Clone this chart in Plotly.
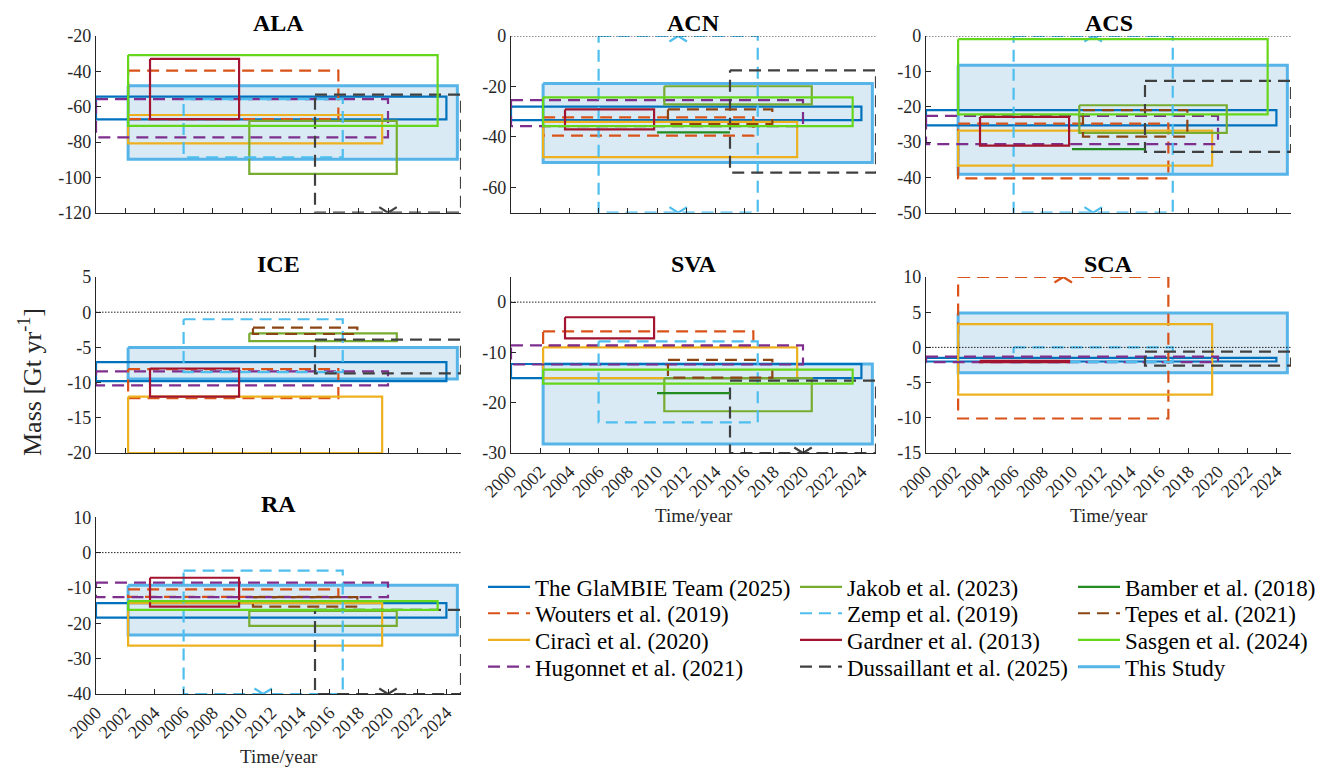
import plotly.graph_objects as go

# ---------------- data ----------------
regions = ["ALA", "ACN", "ACS", "ICE", "SVA", "SCA", "RA"]
y_lo = [-120, -70, -50, -20, -30, -15, -40]
y_hi = [-20, 0, 0, 5, 5, 10, 10]
y_dtick = [20, 20, 10, 5, 10, 5, 10]
x_ticks = list(range(2000, 2025, 2))
x_range = [2000, 2025]

studies = ["The GlaMBIE Team (2025)", "Wouters et al. (2019)", "Ciracì et al. (2020)",
           "Hugonnet et al. (2021)", "Jakob et al. (2023)", "Zemp et al. (2019)",
           "Gardner et al. (2013)", "Dussaillant et al. (2025)", "Bamber et al. (2018)",
           "Tepes et al. (2021)", "Sasgen et al. (2024)", "This Study"]
colors = ["#0072BD", "#D95319", "#EDB120", "#7E2F8E", "#77AC30", "#4DBEEE",
          "#A2142F", "#404040", "#228B22", "#8B4513", "#66D61A", "#56B4E9"]
dashed = [False, True, False, True, False, True, False, True, False, True, False, False]
t_start = [2000.0, 2002.2, 2002.2, 2000.0, 2010.5, 2006.0, 2003.7, 2015.0, 2010.0, 2010.75, 2002.2, 2002.2]
t_end = [2024.0, 2016.6, 2019.6, 2020.0, 2020.6, 2016.9, 2009.8, 2025.0, 2015.0, 2017.9, 2023.4, 2024.75]

# upper / lower mass-balance bounds per region (order of `regions`), None = not available
glambie_up = [-54.3, -28.0, -21.0, -7.1, -12.3, -1.5, -14.3]
glambie_lo = [-67.2, -33.3, -25.3, -9.8, -15.1, -2.0, -18.4]
wouters_up = [-39.6, -32.2, -24.8, -8.1, -5.8, 11.0, -10.4]
wouters_lo = [-67.0, -39.5, -40.3, -12.2, -8.7, -10.1, -12.5]
ciraci_up = [-64.7, -34.0, -26.8, -12.0, -9.0, 3.3, -14.3]
ciraci_lo = [-80.8, -48.0, -36.7, -20.0, -15.1, -6.7, -26.3]
hugonnet_up = [-55.7, -25.4, -22.6, -8.4, -8.6, -1.3, -8.5]
hugonnet_lo = [-77.4, -35.7, -30.6, -10.4, -12.4, -2.1, -12.6]
jakob_up = [-68.0, -19.9, -19.6, -3.0, -15.1, None, -16.5]
jakob_lo = [-98.0, -27.1, -27.4, -4.1, -21.7, None, -20.7]
zemp_up = [-55.7, 3.0, 3.0, -1.0, -7.8, 0.0, -5.1]
zemp_lo = [-88.7, -75.0, -53.0, -8.5, -23.9, -2.1, -42.0]
gardner_up = [-33.0, -29.1, -22.9, -8.0, -3.0, -1.9, -7.1]
gardner_lo = [-67.0, -37.0, -31.0, -12.0, -7.2, -2.1, -15.3]
dussaillant_up = [-53.2, -13.6, -12.7, -3.9, -15.6, -0.6, -16.2]
dussaillant_lo = [-125.0, -54.1, -32.8, -8.7, -32.0, -2.6, -44.0]
bamber_up = [None, -38.2, -32.0, None, -18.1, None, None]
bamber_lo = [None, -38.2, -32.0, None, -18.1, None, None]
tepes_up = [None, -29.1, -21.0, -2.2, -11.5, None, -12.6]
tepes_lo = [None, -34.9, -28.5, -3.1, -15.0, None, -15.3]
sasgen_up = [-30.8, -24.3, -0.9, None, -13.4, None, -13.7]
sasgen_lo = [-70.9, -35.7, -22.2, None, -16.2, None, -16.2]
study_up = [-48.1, -18.8, -8.3, -5.0, -12.3, 4.9, -9.2]
study_lo = [-89.8, -50.1, -39.1, -9.5, -28.2, -3.6, -23.3]

uppers = [glambie_up, wouters_up, ciraci_up, hugonnet_up, jakob_up, zemp_up,
          gardner_up, dussaillant_up, bamber_up, tepes_up, sasgen_up, study_up]
lowers = [glambie_lo, wouters_lo, ciraci_lo, hugonnet_lo, jakob_lo, zemp_lo,
          gardner_lo, dussaillant_lo, bamber_lo, tepes_lo, sasgen_lo, study_lo]

# ---------------- layout geometry ----------------
W, H = 1332, 767
FONT = '"Liberation Serif", "Times New Roman", Times, serif'
col_px = [(96, 461), (511, 876), (926, 1291)]
row_px = [(36, 212.7), (277, 453), (517.3, 694)]
panel_pos = [(0, 0), (0, 1), (0, 2), (1, 0), (1, 1), (1, 2), (2, 0)]
show_xlabels = [False, False, False, False, True, True, True]

fig = go.Figure()
layout = dict(width=W, height=H, margin=dict(l=0, r=0, t=0, b=0, autoexpand=False),
              paper_bgcolor="white", plot_bgcolor="white",
              font=dict(family=FONT, color="black", size=18), showlegend=True)
annotations = []
shapes = []

for i, reg in enumerate(regions):
    r, c = panel_pos[i]
    x0, x1 = col_px[c]
    yt, yb = row_px[r]
    sfx = "" if i == 0 else str(i + 1)
    yt_vals = [v for v in range(y_lo[i], y_hi[i] + 1) if v % y_dtick[i] == 0]
    layout["xaxis" + sfx] = dict(
        domain=[x0 / W, x1 / W], range=x_range, anchor="y" + sfx, automargin=False,
        tickmode="array", tickvals=x_ticks, ticktext=[str(t) for t in x_ticks],
        showticklabels=show_xlabels[i], tickangle=-45,
        ticks="inside", ticklen=5, tickcolor="#262626", tickwidth=1,
        showline=True, linecolor="#262626", linewidth=1.4, showgrid=False, zeroline=False,
        tickfont=dict(size=18, family=FONT, color="#262626"))
    layout["yaxis" + sfx] = dict(
        domain=[1 - yb / H, 1 - yt / H], range=[y_lo[i], y_hi[i]], anchor="x" + sfx,
        automargin=False,
        tickmode="array", tickvals=yt_vals, ticktext=[str(v) for v in yt_vals],
        ticks="inside", ticklen=5, tickcolor="#262626", tickwidth=1,
        showline=True, linecolor="#262626", linewidth=1.4, showgrid=False, zeroline=False,
        tickfont=dict(size=18, family=FONT, color="#262626"))
    # panel title
    annotations.append(dict(text="<b>" + reg + "</b>", xref="paper", yref="paper",
                            x=(x0 + x1) / 2 / W, y=1 - yt / H, xanchor="center",
                            yanchor="middle", yshift=13, showarrow=False,
                            font=dict(size=24, family=FONT, color="black")))
    if show_xlabels[i]:
        annotations.append(dict(text="Time/year", xref="paper", yref="paper",
                                x=(x0 + x1) / 2 / W, y=1 - yb / H, xanchor="center",
                                yanchor="middle", yshift=-62, showarrow=False,
                                font=dict(size=19, family=FONT, color="#262626")))
    # zero reference line
    if y_lo[i] < 0 < y_hi[i] or y_hi[i] == 0:
        shapes.append(dict(type="line", xref="x" + sfx, yref="y" + sfx,
                           x0=x_range[0], x1=x_range[1], y0=0, y1=0,
                           line=dict(color="#222222", width=1, dash="1.5px,1.5px")))

# draw order: This Study first (fill underneath), then the rest
order = [11] + list(range(11))
for s in order:
    for i in range(len(regions)):
        up, lo = uppers[s][i], lowers[s][i]
        if up is None:
            continue
        sfx = "" if i == 0 else str(i + 1)
        ytop = min(up, y_hi[i])
        ybot = max(lo, y_lo[i])
        xs = [t_start[s], t_end[s], t_end[s], t_start[s], t_start[s]]
        ys = [ytop, ytop, ybot, ybot, ytop]
        is_study = s == 11
        fig.add_trace(go.Scatter(
            x=xs, y=ys, mode="lines", xaxis="x" + sfx, yaxis="y" + sfx,
            line=dict(color=colors[s], width=3 if is_study else 2.2,
                      dash="12px,7px" if dashed[s] else "solid"),
            fill="toself" if is_study else None,
            fillcolor="rgba(0,114,189,0.15)" if is_study else None,
            showlegend=False, hoverinfo="skip"))
        # truncation markers (value outside axis limits)
        span = y_hi[i] - y_lo[i]
        dy = 5.5 / 176 * span
        dx = 0.6
        cx = (t_start[s] + t_end[s]) / 2
        for val, lim, sgn in ((up, y_hi[i], -1), (lo, y_lo[i], 1)):
            if (sgn < 0 and val > lim) or (sgn > 0 and val < lim):
                fig.add_trace(go.Scatter(
                    x=[cx - dx, cx, cx + dx], y=[lim + sgn * dy, lim, lim + sgn * dy],
                    mode="lines", xaxis="x" + sfx, yaxis="y" + sfx,
                    line=dict(color=colors[s], width=2.2), showlegend=False,
                    hoverinfo="skip"))

# ---------------- legend: 3 columns x 4 rows ----------------
leg_col_px = [483, 795, 1073]
leg_row_px = [587, 613.3, 640, 666.7]
for s in range(len(studies)):
    c, r = divmod(s, 4)
    lname = "legend" if s == 0 else "legend" + str(s + 1)
    fig.add_trace(go.Scatter(
        x=[None], y=[None], mode="lines", name=studies[s], legend=lname,
        line=dict(color=colors[s], width=3 if s == 11 else 2.2,
                  dash="12px,7px" if dashed[s] else "solid"),
        showlegend=True))
    layout[lname] = dict(x=leg_col_px[c] / W, y=1 - leg_row_px[r] / H,
                         xanchor="left", yanchor="middle", bgcolor="rgba(0,0,0,0)",
                         borderwidth=0, itemwidth=42,
                         font=dict(size=23, family=FONT, color="black"))

annotations.append(dict(text="Mass [Gt yr<sup>-1</sup>]", xref="paper", yref="paper",
                        x=30 / W, y=1 - 382 / H, xanchor="center", yanchor="middle",
                        textangle=-90, showarrow=False,
                        font=dict(size=26, family=FONT, color="#262626")))

layout["annotations"] = annotations
layout["shapes"] = shapes
fig.update_layout(**layout)
fig.write_html("out.html")
